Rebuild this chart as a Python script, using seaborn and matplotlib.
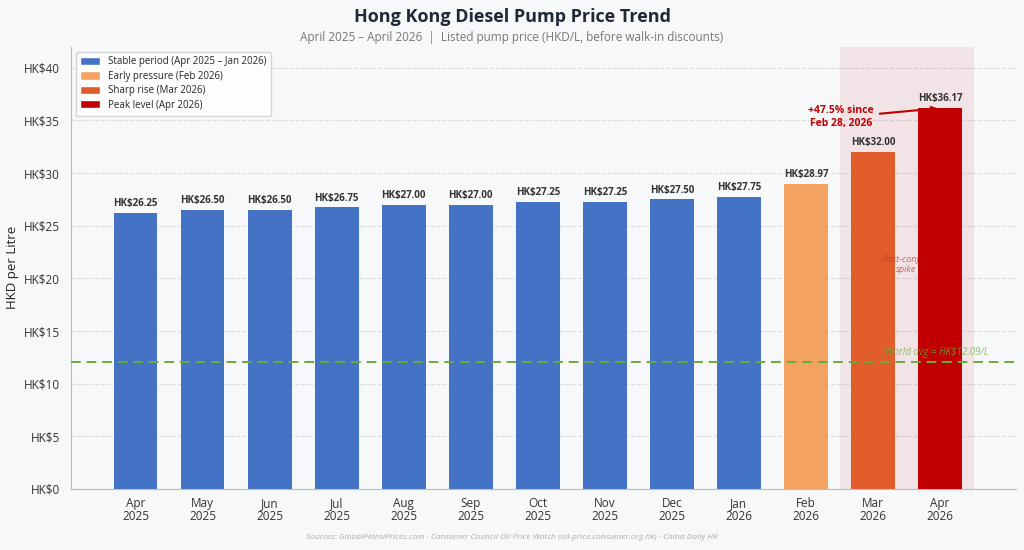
import pandas as pd
import seaborn as sns
import matplotlib.pyplot as plt
from matplotlib.patches import Patch

months = ["Apr\n2025", "May\n2025", "Jun\n2025", "Jul\n2025", "Aug\n2025", "Sep\n2025",
          "Oct\n2025", "Nov\n2025", "Dec\n2025", "Jan\n2026", "Feb\n2026", "Mar\n2026", "Apr\n2026"]
prices = [26.25, 26.50, 26.50, 26.75, 27.00, 27.00, 27.25, 27.25, 27.50, 27.75, 28.97, 32.00, 36.17]
phase_names = ["Stable period (Apr 2025 \u2013 Jan 2026)", "Early pressure (Feb 2026)",
               "Sharp rise (Mar 2026)", "Peak level (Apr 2026)"]
phases = [phase_names[0]] * 10 + [phase_names[1], phase_names[2], phase_names[3]]
phase_colors = ["#4472C4", "#F4A261", "#E05C2A", "#C00000"]
world_avg = 12.09
yticks = [0, 5, 10, 15, 20, 25, 30, 35, 40]

df = pd.DataFrame({"month": months, "price": prices, "phase": phases})

sns.set_style("white")
plt.rcParams['font.family'] = ['Open Sans', 'DejaVu Sans']
bg = "#F7F8FA"

fig = plt.figure(figsize=(10.24, 5.5), dpi=100, facecolor=bg)
ax = fig.add_axes([0.069, 0.111, 0.923, 0.804], facecolor=bg)

ax.axvspan(10.5, 12.5, color="#C00000", alpha=0.08, zorder=0, lw=0)

sns.barplot(data=df, x="month", y="price", hue="phase", hue_order=phase_names,
            palette=phase_colors, width=0.65, dodge=False, saturation=1, ax=ax,
            linewidth=0, edgecolor="none", legend=False)

# bars sit at zorder 2; the spike note goes over Mar but under the Apr bar
for patch in ax.patches:
    patch.set_zorder(2)
    if abs(patch.get_x() + patch.get_width() / 2 - 12) < 0.01:
        patch.set_zorder(4)

ax.text(11.5, 21.3, "Post-conflict\nspike", color="#C0392B", fontsize=6.5, style="italic",
        ha="center", va="center", alpha=0.75, zorder=3)
ax.axhline(world_avg, color="#6AAA3A", ls=(0, (5, 3)), lw=1.4, zorder=5)
ax.text(12.72, world_avg + 0.35, f"World avg = HK${world_avg:.2f}/L", color="#6AAA3A",
        alpha=0.75, fontsize=7, style="italic", ha="right", va="bottom", zorder=5)

for i, p in enumerate(prices):
    ax.text(i, p + 0.35, f"HK${p:.2f}", ha="center", va="bottom", fontsize=7,
            fontweight="bold", color="#333333", zorder=6)

ax.annotate("+47.5% since\nFeb 28, 2026", xy=(12, prices[-1]), xytext=(10.52, 35.3),
            ha="center", va="center", fontsize=7.5, fontweight="bold", color="#C00000",
            arrowprops=dict(arrowstyle="->", color="#C00000", lw=1.5), zorder=7)

ax.set_xlim(-0.97, 13.13)
ax.set_ylim(0, 42)
ax.set_yticks(yticks)
ax.set_yticklabels([f"HK${v}" for v in yticks], fontsize=8.5, color="#333333")
ax.tick_params(axis="x", labelsize=8.5, colors="#333333", length=4, color="#888888", pad=2)
ax.tick_params(axis="y", length=4, color="#888888")
for lbl in ax.get_xticklabels():
    lbl.set_linespacing(1.0)
ax.set_xlabel("")
ax.set_ylabel("HKD per Litre", fontsize=9.5, color="#222222")
ax.grid(axis="y", ls="--", color="#DDDDDD", lw=0.8, zorder=0)
ax.set_axisbelow(True)
sns.despine(ax=ax)
for s in ["left", "bottom"]:
    ax.spines[s].set_color("#BBBBBB")

handles = [Patch(facecolor=c, label=n) for c, n in zip(phase_colors, phase_names)]
ax.legend(handles=handles, loc="upper left", fontsize=7, frameon=True, facecolor="white",
          edgecolor="#CCCCCC", handlelength=2.0, handleheight=0.9, borderpad=0.5,
          labelspacing=0.35).set_zorder(8)

fig.text(0.5, 0.97, "Hong Kong Diesel Pump Price Trend", ha="center", va="center",
         fontsize=13, fontweight="bold", color="#1F2937")
fig.text(0.5, 0.932, "April 2025 \u2013 April 2026  |  Listed pump price (HKD/L, before walk-in discounts)",
         ha="center", va="center", fontsize=8.5, color="#777777")
fig.text(0.5, 0.022, "Sources: GlobalPetrolPrices.com \u00b7 Consumer Council Oil Price Watch (oil-price.consumer.org.hk) \u00b7 China Daily HK",
         ha="center", va="center", fontsize=6, style="italic", color="#AAAAAA")

fig.savefig("out.png", dpi=100, facecolor=bg)
